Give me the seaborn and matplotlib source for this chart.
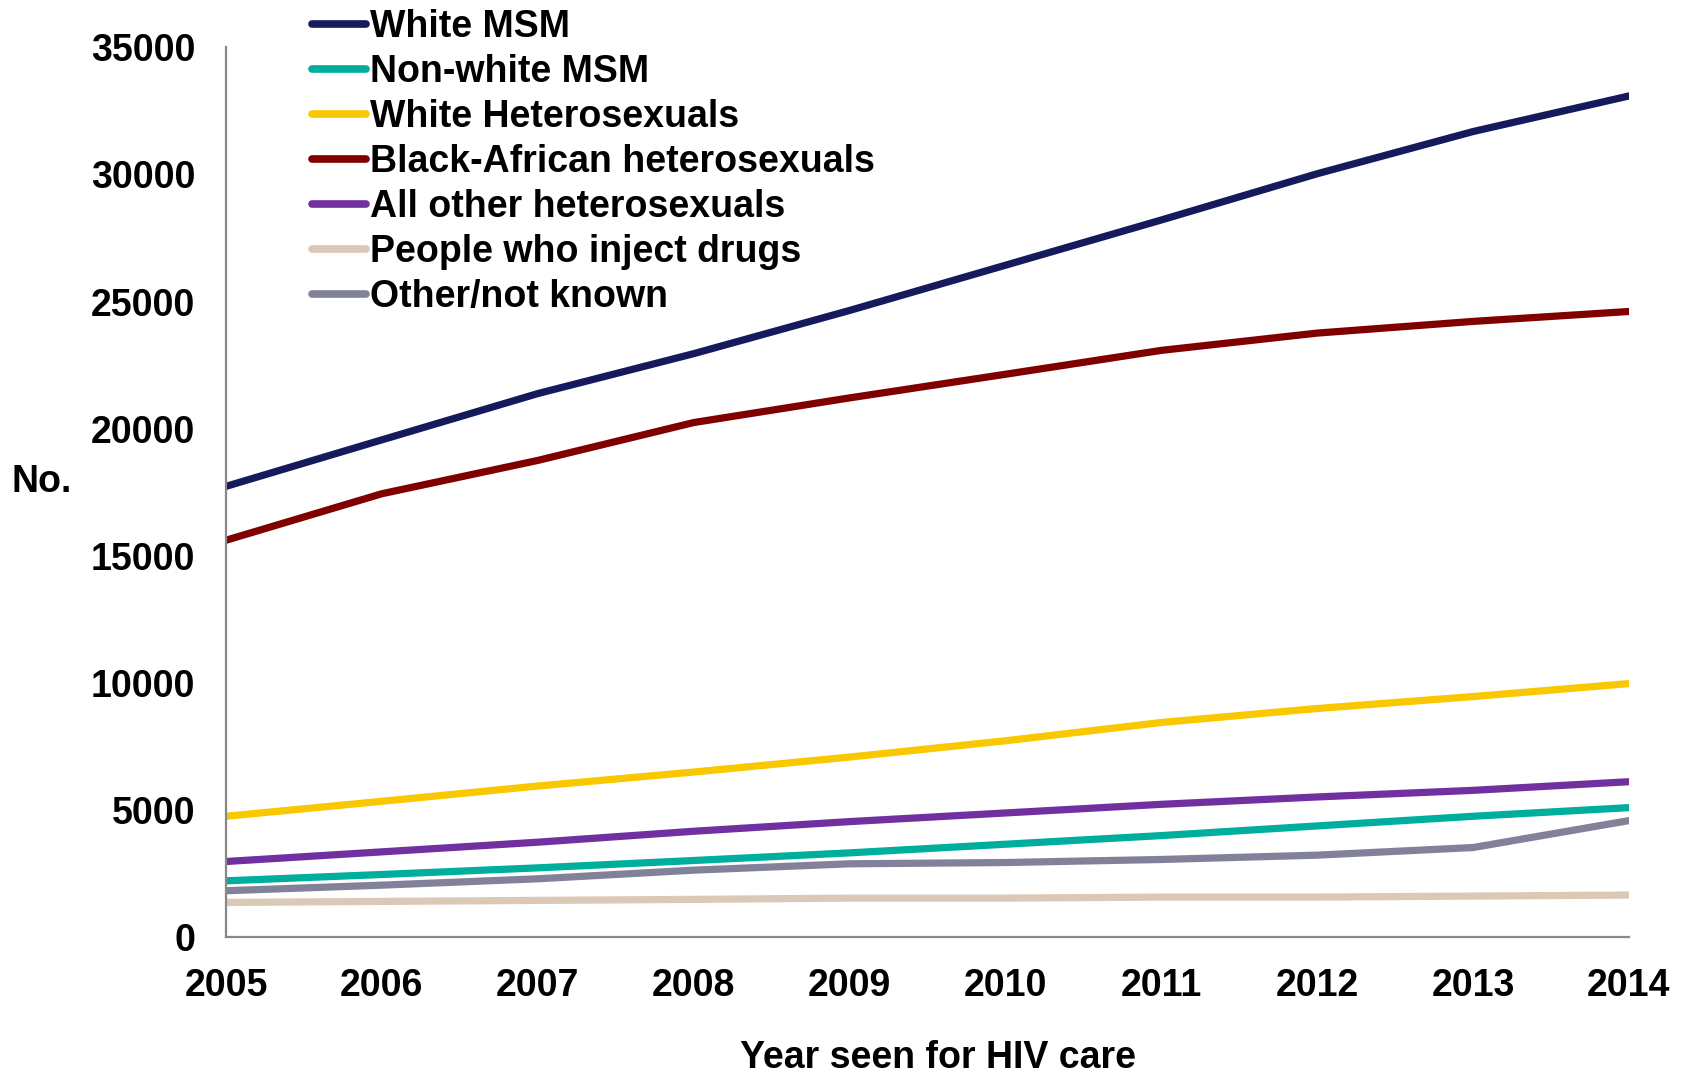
import matplotlib
matplotlib.use("Agg")
import matplotlib.pyplot as plt
import seaborn as sns
import pandas as pd

years = [2005, 2006, 2007, 2008, 2009, 2010, 2011, 2012, 2013, 2014]
white_msm = [17730, 19560, 21380, 22950, 24650, 26430, 28210, 30030, 31690, 33090]
nonwhite_msm = [2210, 2460, 2720, 3010, 3310, 3650, 3990, 4370, 4750, 5090]
white_het = [4750, 5340, 5940, 6490, 7080, 7720, 8440, 8990, 9460, 9970]
black_african_het = [15610, 17440, 18750, 20240, 21210, 22140, 23080, 23760, 24220, 24610]
other_het = [2970, 3350, 3730, 4160, 4540, 4880, 5220, 5510, 5770, 6110]
pwid = [1360, 1400, 1440, 1480, 1530, 1530, 1570, 1570, 1610, 1650]
other_unknown = [1820, 2040, 2290, 2630, 2880, 2930, 3050, 3220, 3520, 4580]

series_names = ["White MSM", "Non-white MSM", "White Heterosexuals",
                "Black-African heterosexuals", "All other heterosexuals",
                "People who inject drugs", "Other/not known"]
series_values = [white_msm, nonwhite_msm, white_het, black_african_het,
                 other_het, pwid, other_unknown]
colors = ["#141a5c", "#00ae9e", "#f9c800", "#800000", "#7030a0", "#dcc8b6", "#81829a"]

rows = []
for name, vals in zip(series_names, series_values):
    for y, v in zip(years, vals):
        rows.append({"Year": y, "No.": v, "Group": name})
df = pd.DataFrame(rows)

sns.set_theme(style="white")
plt.rcParams['font.family'] = ['Liberation Sans', 'DejaVu Sans']
plt.rcParams['font.weight'] = 'bold'
plt.rcParams['text.color'] = 'black'

fig = plt.figure(figsize=(16.9, 10.8), dpi=100)
ax = fig.add_axes([226/1690, 1-937/1080, (1629-226)/1690, (937-47.4)/1080])

sns.lineplot(data=df, x="Year", y="No.", hue="Group", hue_order=series_names,
             palette=dict(zip(series_names, colors)), linewidth=5.2, ax=ax,
             legend=True)

ax.set_xlim(2005, 2014)
ax.set_ylim(0, 35000)
ax.set_xticks(years)
ax.set_xticklabels([str(y) for y in years])
ax.set_yticks(range(0, 35001, 5000))
for s in ["top", "right"]:
    ax.spines[s].set_visible(False)
for s in ["left", "bottom"]:
    ax.spines[s].set_color("#888888")
    ax.spines[s].set_linewidth(1.6)
ax.tick_params(axis="both", which="both", direction="out", colors="#888888",
               length=11, width=1.6, labelcolor="black", labelsize=27)
ax.tick_params(axis="x", pad=11)
ax.tick_params(axis="y", pad=11)
for lab in ax.get_xticklabels() + ax.get_yticklabels():
    lab.set_fontweight("bold")
ax.grid(False)

ax.set_xlabel("")
ax.set_ylabel("")
fig.text(42/1690, 1-482/1080, "No.", fontsize=27, fontweight="bold", ha="center", va="center",
         color="black")
fig.text(938/1690, 1-1058/1080, "Year seen for HIV care", fontsize=27, fontweight="bold",
         ha="center", va="center", color="black")

handles, labels = ax.get_legend_handles_labels()
leg = ax.legend(handles, labels, loc="upper left", bbox_to_anchor=(312/1690, 1-9/1080),
                bbox_transform=fig.transFigure, frameon=False, fontsize=27,
                handlelength=1.45, handletextpad=0.1, labelspacing=0.24,
                borderpad=0, borderaxespad=0)
for t in leg.get_texts():
    t.set_fontweight("bold")
    t.set_color("black")
for l in leg.get_lines():
    l.set_linewidth(5.5)

fig.savefig("out.png", dpi=100)
